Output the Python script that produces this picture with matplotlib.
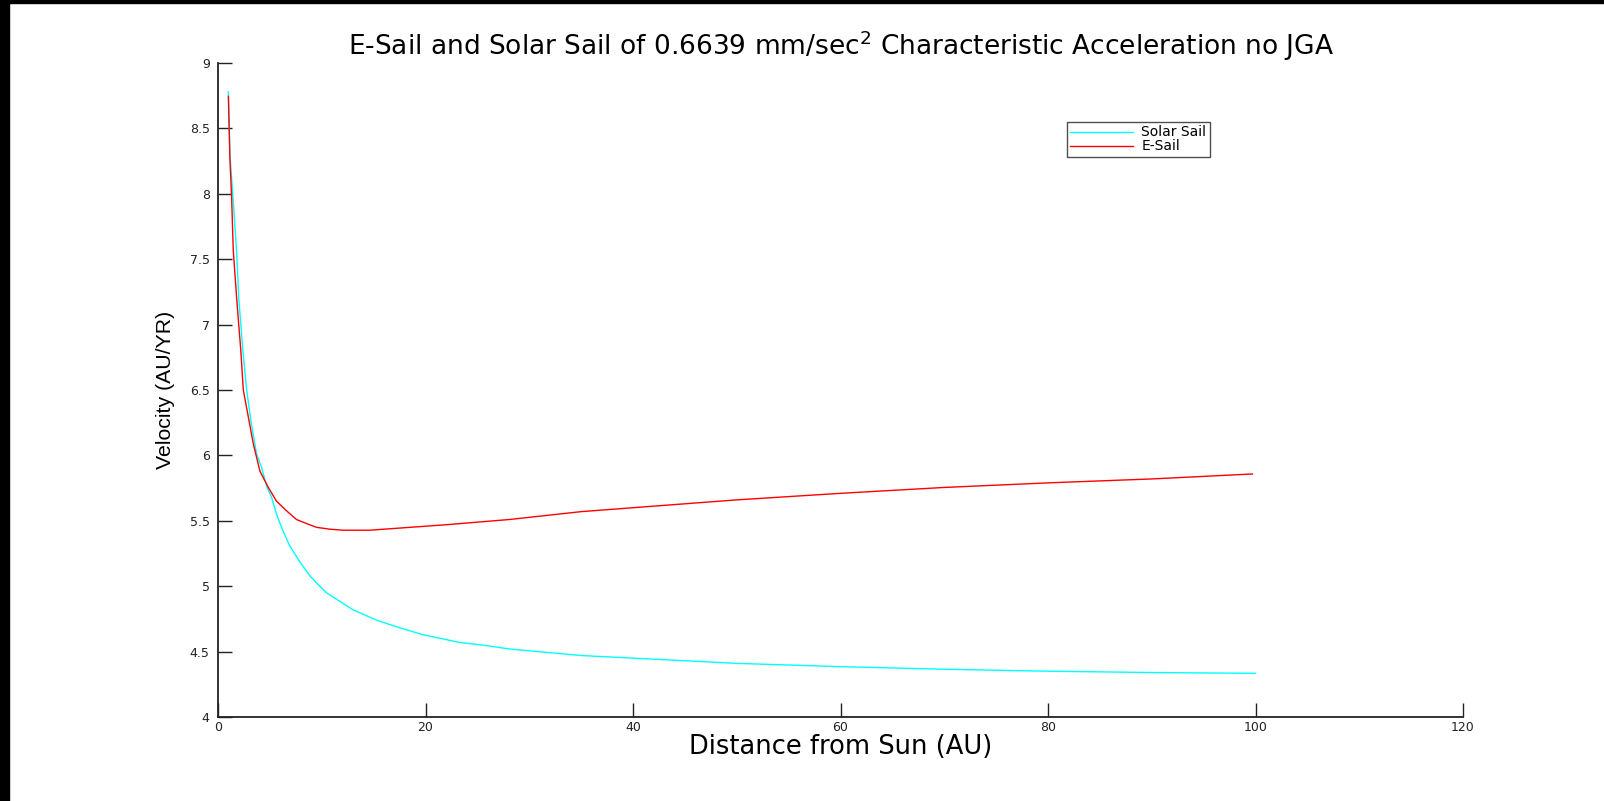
import matplotlib
matplotlib.use("Agg")
import matplotlib.pyplot as plt

# distance from sun (AU) and velocity (AU/YR)
dist_solar = [1.0, 1.15, 1.44, 1.8, 2.0, 2.4, 2.76, 3.2, 3.72, 4.2, 4.7, 5.16, 5.64, 6.28,
              6.9, 7.9, 8.85, 9.5, 10.45, 11.73, 13.0, 15.3, 17.2, 19.7, 23.3, 25.5, 28.1,
              35, 40, 50, 60, 70, 80, 90, 100]
vel_solar = [8.78, 8.30, 7.98, 7.55, 7.20, 6.80, 6.50, 6.25, 6.01, 5.91, 5.76, 5.68, 5.55, 5.42,
             5.31, 5.185, 5.08, 5.025, 4.95, 4.885, 4.82, 4.74, 4.69, 4.63, 4.57, 4.55, 4.52,
             4.47, 4.45, 4.41, 4.385, 4.365, 4.35, 4.34, 4.334]

dist_esail = [1.0, 1.15, 1.31, 1.47, 1.79, 2.2, 2.44, 3.4, 4.04, 4.84, 5.64, 6.6, 7.56,
              8.53, 9.5, 10.77, 12.05, 14.6, 18.5, 22, 28.1, 35, 40, 50, 60, 70, 80, 90, 99.7]
vel_esail = [8.745, 8.26, 7.98, 7.57, 7.21, 6.80, 6.50, 6.09, 5.88, 5.756, 5.65, 5.577, 5.51,
             5.479, 5.45, 5.436, 5.428, 5.428, 5.45, 5.47, 5.51, 5.57, 5.60, 5.66, 5.71,
             5.755, 5.79, 5.82, 5.858]

x_ticks = [0, 20, 40, 60, 80, 100, 120]
y_ticks = [4, 4.5, 5, 5.5, 6, 6.5, 7, 7.5, 8, 8.5, 9]
y_tick_labels = ["4", "4.5", "5", "5.5", "6", "6.5", "7", "7.5", "8", "8.5", "9"]

title = "E-Sail and Solar Sail of 0.6639 mm/sec$^2$ Characteristic Acceleration no JGA"

# the reference is a stretched matlab export, so the wider DejaVu Sans fits best
plt.rcParams['font.family'] = ['DejaVu Sans']
plt.rcParams['mathtext.fontset'] = 'dejavusans'

fig = plt.figure(figsize=(16.04, 8.01), dpi=100)
ax = fig.add_axes([218 / 1604, 1 - 717 / 801, (1463 - 218) / 1604, (717 - 63) / 801])

ax.plot(dist_solar, vel_solar, color='cyan', lw=1.0, label='Solar Sail')
ax.plot(dist_esail, vel_esail, color='red', lw=1.0, label='E-Sail')

ax.set_xlim(0, 120)
ax.set_ylim(4, 9)
ax.set_xticks(x_ticks)
ax.set_yticks(y_ticks)
ax.set_yticklabels(y_tick_labels)
ax.tick_params(direction='in', length=10, width=1, labelsize=9, colors='#222222', pad=3)
ax.tick_params(axis='y', pad=6)
for s in ['top', 'right']:
    ax.spines[s].set_visible(False)
for s in ['left', 'bottom']:
    ax.spines[s].set_linewidth(1.3)
    ax.spines[s].set_color('#222222')

ax.set_title(title, fontsize=19, pad=5)
ax.set_xlabel('Distance from Sun (AU)', fontsize=18.5, labelpad=0)
ax.set_ylabel('Velocity (AU/YR)', fontsize=15.3, family='Liberation Sans', labelpad=10.5)

leg = ax.legend(loc='upper left', bbox_to_anchor=((1067 - 218) / 1245, 1 - (122 - 63) / 654),
                fontsize=10, frameon=True, fancybox=False, borderpad=0.25,
                handlelength=4.5, handletextpad=0.6, labelspacing=0.0, borderaxespad=0)
leg.get_frame().set_edgecolor('#222222')
leg.get_frame().set_linewidth(1.0)

# black strips along the top and left edges of the reference
fig.patches.append(plt.Rectangle((0, 0), 9 / 1604, 1, transform=fig.transFigure, color='black'))
fig.patches.append(plt.Rectangle((0, 1 - 3 / 801), 1, 3 / 801, transform=fig.transFigure, color='black'))

fig.savefig('out.png', dpi=100)
